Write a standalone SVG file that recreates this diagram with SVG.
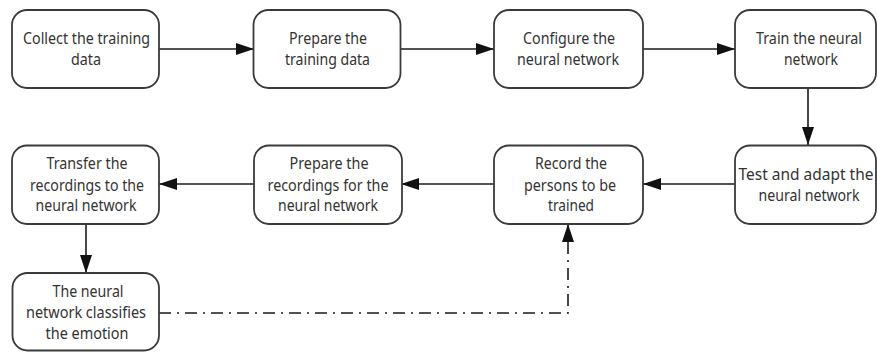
<svg xmlns="http://www.w3.org/2000/svg" width="877" height="352" viewBox="0 0 877 352">
  <defs>
    <marker id="arrow" markerUnits="userSpaceOnUse" markerWidth="18" markerHeight="12" refX="18" refY="6" orient="auto">
      <path d="M0,0 L18,6 L0,12 z" fill="#111"/>
    </marker>
    <style>
      .box { fill: #fff; stroke: #3a3a3a; stroke-width: 1.8; }
      .lbl { font-family: "Noto Sans", "Open Sans", "DejaVu Sans", sans-serif; font-size: 16px; fill: #333; text-anchor: middle; }
      .link { fill: none; stroke: #1a1a1a; stroke-width: 1.6; marker-end: url(#arrow); }
      .dash { stroke-dasharray: 12 6 2 6; }
    </style>
  </defs>
  <rect width="877" height="352" fill="#fff"/>

  <g id="connectors">
    <line class="link" x1="159" y1="49" x2="254" y2="49"/>
    <line class="link" x1="400" y1="49" x2="494" y2="49"/>
    <line class="link" x1="643" y1="49" x2="735" y2="49"/>
    <line class="link" x1="808" y1="88" x2="808" y2="145"/>
    <line class="link" x1="735" y1="184" x2="643" y2="184"/>
    <line class="link" x1="494" y1="184" x2="401" y2="184"/>
    <line class="link" x1="254" y1="184" x2="159" y2="184"/>
    <line class="link" x1="86" y1="224" x2="86" y2="273"/>
    <polyline class="link dash" points="159,313 568,313 568,224"/>
  </g>

  <g id="collect">
    <rect class="box" x="12" y="10" width="147" height="78" rx="15"/>
    <text class="lbl" x="86.5" y="43.5" textLength="127" lengthAdjust="spacingAndGlyphs">Collect the training</text>
    <text class="lbl" x="86" y="64.5" textLength="30" lengthAdjust="spacingAndGlyphs">data</text>
  </g>

  <g id="prepare-training">
    <rect class="box" x="253.5" y="10" width="147" height="78" rx="15"/>
    <text class="lbl" x="328" y="43.5" textLength="78" lengthAdjust="spacingAndGlyphs">Prepare the</text>
    <text class="lbl" x="327.5" y="64.5" textLength="85" lengthAdjust="spacingAndGlyphs">training data</text>
  </g>

  <g id="configure">
    <rect class="box" x="494" y="10" width="149" height="78" rx="15"/>
    <text class="lbl" x="569" y="43.5" textLength="92" lengthAdjust="spacingAndGlyphs">Configure the</text>
    <text class="lbl" x="568" y="64.5" textLength="102" lengthAdjust="spacingAndGlyphs">neural network</text>
  </g>

  <g id="train">
    <rect class="box" x="735" y="10" width="141" height="78" rx="15"/>
    <text class="lbl" x="809" y="43.5" textLength="106" lengthAdjust="spacingAndGlyphs">Train the neural</text>
    <text class="lbl" x="811" y="64.5" textLength="54" lengthAdjust="spacingAndGlyphs">network</text>
  </g>

  <g id="test-adapt">
    <rect class="box" x="735" y="145.5" width="141" height="78.5" rx="15"/>
    <text class="lbl" x="806" y="179.5" textLength="135" lengthAdjust="spacingAndGlyphs">Test and adapt the</text>
    <text class="lbl" x="809" y="200.5" textLength="101" lengthAdjust="spacingAndGlyphs">neural network</text>
  </g>

  <g id="record">
    <rect class="box" x="494" y="145.5" width="149" height="78.5" rx="15"/>
    <text class="lbl" x="571" y="169" textLength="72" lengthAdjust="spacingAndGlyphs">Record the</text>
    <text class="lbl" x="570" y="190.5" textLength="92" lengthAdjust="spacingAndGlyphs">persons to be</text>
    <text class="lbl" x="571" y="211" textLength="46" lengthAdjust="spacingAndGlyphs">trained</text>
  </g>

  <g id="prepare-recordings">
    <rect class="box" x="254" y="145.5" width="148" height="78.5" rx="15"/>
    <text class="lbl" x="329" y="169" textLength="79" lengthAdjust="spacingAndGlyphs">Prepare the</text>
    <text class="lbl" x="328" y="190.5" textLength="121" lengthAdjust="spacingAndGlyphs">recordings for the</text>
    <text class="lbl" x="328" y="211" textLength="100" lengthAdjust="spacingAndGlyphs">neural network</text>
  </g>

  <g id="transfer">
    <rect class="box" x="12" y="145.5" width="147" height="78.5" rx="15"/>
    <text class="lbl" x="87" y="169" textLength="81" lengthAdjust="spacingAndGlyphs">Transfer the</text>
    <text class="lbl" x="87" y="190.5" textLength="114" lengthAdjust="spacingAndGlyphs">recordings to the</text>
    <text class="lbl" x="86" y="211" textLength="101" lengthAdjust="spacingAndGlyphs">neural network</text>
  </g>

  <g id="classify">
    <rect class="box" x="12.5" y="273" width="146.5" height="77.5" rx="15"/>
    <text class="lbl" x="88" y="297" textLength="71" lengthAdjust="spacingAndGlyphs">The neural</text>
    <text class="lbl" x="86" y="318" textLength="120" lengthAdjust="spacingAndGlyphs">network classifies</text>
    <text class="lbl" x="87" y="338.5" textLength="83" lengthAdjust="spacingAndGlyphs">the emotion</text>
  </g>
</svg>
